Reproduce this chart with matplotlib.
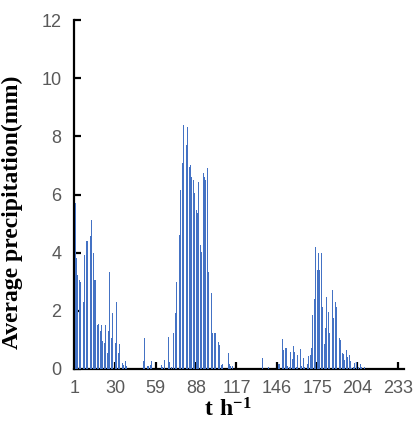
import numpy as np
import matplotlib.pyplot as plt

# hourly average precipitation (mm), three rain events, zero elsewhere
n_hours = 237

storm1_start = 1
storm1 = [5.72, 3.81, 3.24, 3.07, 3.0, 2.72, 2.32, 3.93, 4.39, 4.39,
          4.79, 4.56, 5.13, 3.98, 3.07, 3.07, 1.52, 1.55, 1.29, 1.52,
          0.95, 0.9, 1.52, 0.55, 1.29, 3.35, 1.06, 1.92, 2.1, 0.9,
          2.32, 0.55, 0.85, 0.26, 0.2, 0.15, 0.26, 0.1]

storm2_start = 50
storm2 = [0.27, 1.06, 0.05, 0.1, 0.1, 0.15, 0.27, 0.2, 0, 0,
          0, 0, 0, 0.15, 0.05, 0.3, 0, 0, 1.1, 0.25,
          0.05, 0, 1.22, 1.92, 3.0, 3.17, 4.6, 6.15, 7.08, 8.39,
          6.96, 7.7, 8.33, 6.96, 7.0, 6.6, 6.5, 6.04, 5.47, 5.36,
          6.44, 4.26, 4.03, 6.73, 6.6, 6.5, 6.9, 3.35, 3.2, 2.6,
          1.22, 1.22, 1.22, 1.1, 0.94, 0.82, 0.14, 0.17, 0, 0,
          0, 0.55, 0.17, 0.1, 0.1]

storm3_start = 136
storm3 = [0.39, 0, 0, 0, 0.07, 0, 0, 0, 0, 0,
          0, 0.17, 0.17, 0.3, 1.02, 0.65, 0.73, 0.73, 0.1, 0.05,
          0.6, 0.35, 0.8, 0.6, 0.07, 0.48, 0.1, 0.7, 0.1, 0.39,
          0.05, 0.05, 0.17, 0.45, 0.48, 0.73, 1.86, 2.41, 4.2, 3.42,
          3.98, 3.42, 3.98, 2.14, 0.86, 1.4, 2.49, 1.97, 1.23, 2.95,
          2.72, 1.74, 2.31, 2.12, 1.57, 1.06, 1.0, 0.54, 0.52, 0.31,
          0.65, 0.42, 0.48, 0.29, 0.03, 0.08, 0.2, 0.24, 0, 0.07,
          0.17, 0.05, 0, 0.05]

tick_labels = [1, 30, 59, 88, 117, 146, 175, 204, 233]

hours = np.arange(1, n_hours + 1)
precip = np.zeros(n_hours)
for start, vals in [(storm1_start, storm1), (storm2_start, storm2), (storm3_start, storm3)]:
    precip[start - 1:start - 1 + len(vals)] = vals

plt.rcParams['mathtext.fontset'] = 'custom'
plt.rcParams['mathtext.bf'] = 'Liberation Serif:bold'
plt.rcParams['mathtext.rm'] = 'Liberation Serif:bold'

fig = plt.figure(figsize=(4.17, 4.29), dpi=100)
ax = fig.add_axes([0.177, 0.140, 0.792, 0.813])

ax.bar(hours, precip, width=0.65, color='#4472C4', linewidth=0, zorder=3)

ax.set_xlim(0.1, n_hours + 0.5)
ax.set_ylim(0, 12)
ax.set_yticks(np.arange(0, 13, 2))
ax.set_xticks(tick_labels)

for s in ['top', 'right']:
    ax.spines[s].set_visible(False)
for s in ['left', 'bottom']:
    ax.spines[s].set_linewidth(1.6)
    ax.spines[s].set_color('black')

ax.tick_params(axis='both', direction='in', length=5, width=1.6, color='black',
               labelcolor='#595959', labelsize=13)
ax.tick_params(axis='x', pad=8)
ax.tick_params(axis='y', pad=9)
for lab in ax.get_xticklabels() + ax.get_yticklabels():
    lab.set_family('Liberation Sans')

ax.set_ylabel('Average precipitation(mm)', family='Liberation Serif',
              fontweight='bold', fontsize=17)
ax.set_xlabel(r'$\mathbf{t\ h^{-1}}$', fontsize=17)
ax.yaxis.set_label_coords(-0.155, 0.45)
ax.xaxis.set_label_coords(0.467, -0.082)

fig.savefig('out.png', dpi=100)
